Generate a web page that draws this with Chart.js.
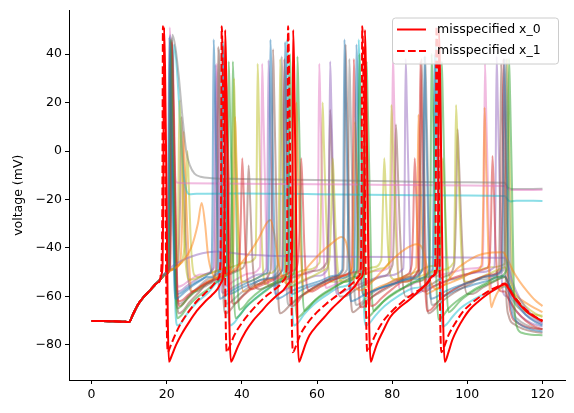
<!DOCTYPE html>
<html>
<head>
<meta charset="utf-8">
<script src="https://cdn.jsdelivr.net/npm/chart.js@4.4.1/dist/chart.umd.min.js"></script>
<style>
  html, body { margin: 0; padding: 0; background: #fff; }
  #wrap { width: 574px; height: 413px; }
</style>
</head>
<body>
<div id="wrap"><canvas id="chart" width="574" height="413"></canvas></div>
<script>
// tick labels
const xTicks = [0, 20, 40, 60, 80, 100, 120]
const yTicks = [-80, -60, -40, -20, 0, 20, 40]

// shared start of every trace: rest, then the current step at t=10 ms
const ramp = [[0,-70.2],[3,-70.1],[6,-70.3],[9,-70.5],[10,-70.6],[11,-67.5],[12.5,-63],[14,-60],[15.7,-57.3],[17,-55],[18.3,-53]]

// misspecified x_0 (solid red)
const x0 = ramp.concat([[18.6,-51],[18.9,-47],[19.1,-20],[19.3,51],[19.55,35],[19.9,-10],[20.3,-70],[20.6,-87],[21.2,-85],[22.5,-80],[24,-75.5],[26,-70.5],[28,-66],[30,-62.5],[32,-59.5],[33.5,-57],[34.6,-54],[35.1,-50],[35.35,-25],[35.55,50],[35.8,35],[36.2,-10],[36.7,-72],[37.1,-87],[37.8,-85],[39,-80.5],[41,-74.5],[43,-70],[45,-66.5],[47,-63],[49,-60],[51,-57.5],[52.5,-54.5],[53.2,-50],[53.45,-25],[53.65,50],[53.9,35],[54.3,-10],[54.8,-72],[55.2,-87],[56,-84],[57,-79.5],[58,-76],[60,-72],[62,-68.5],[64,-65],[66,-62],[68,-59],[70,-56],[71.6,-52.5],[72.3,-50],[72.55,-25],[72.75,50],[73,35],[73.4,-10],[73.9,-72],[74.3,-87],[75,-84],[76,-79.5],[77.5,-74.5],[79.5,-68.5],[82,-64.5],[84.5,-61.5],[87,-58],[89,-55],[90.9,-51.5],[91.9,-49],[92.25,-25],[92.45,50],[92.7,35],[93.1,-10],[93.6,-72],[94,-87],[95,-83],[96,-78],[97.5,-73],[99,-69],[100.6,-65.5],[103,-62],[105,-59.5],[107.5,-57],[110,-55],[110.5,-55.5],[112,-59.5],[114,-63.5],[116,-66.5],[118,-68.5],[120,-70.3]])

// misspecified x_1 (dashed red)
const x1 = ramp.concat([[18.4,-51],[18.65,-45],[18.85,-20],[19.0,51.5],[19.25,35],[19.6,-10],[20.0,-70],[20.3,-83],[21,-80.5],[22.5,-75],[24,-70.5],[26,-66],[28,-62],[30,-59],[32,-56],[33.6,-53],[34.2,-49],[34.45,-25],[34.65,51.5],[34.9,35],[35.3,-10],[35.7,-70],[36,-83],[36.8,-80.5],[38,-76],[40,-71],[42,-67],[44,-63.5],[46,-60.5],[48,-58],[50,-55.5],[51.3,-53],[51.9,-49],[52.1,-25],[52.3,51.5],[52.55,35],[52.9,-10],[53.3,-70],[53.6,-83],[54.4,-80.5],[55.5,-76],[57.5,-71],[60,-66.5],[62.5,-63],[65,-60],[67.5,-57],[69.5,-54.5],[71,-52],[71.6,-49],[71.85,-25],[72.05,51.5],[72.3,35],[72.7,-10],[73.1,-70],[73.4,-83],[74.2,-80.5],[75.5,-76],[77.5,-70.5],[80,-66],[82.5,-62.5],[85,-59.5],[87.5,-57],[89.5,-54.5],[90.9,-51.5],[91.4,-49],[91.6,-25],[91.8,51.5],[92.05,35],[92.4,-10],[92.8,-70],[93.1,-83],[93.9,-80.5],[95,-76],[97,-70.5],[99,-66],[101,-63],[103.5,-60],[106,-57.5],[108,-56],[110,-54.7],[110.5,-55.2],[112,-59],[114,-63],[116,-66],[118,-68.3],[120,-70]])

// posterior samples (faint traces)
const blue1 = ramp.concat([[19.5,-51],[20.1,-49],[20.4,-20],[20.7,47],[21,29],[21.5,-15],[22,-53],[22.5,-61],[23.5,-60],[25,-58],[27,-55.5],[29.5,-53],[31.5,-50.5],[31.9,-49],[32.2,-20],[32.5,46],[32.8,28],[33.3,-15],[33.8,-53],[34.3,-61],[35.3,-60],[37.5,-57.5],[40.5,-55],[43.5,-53],[46.5,-50.5],[47,-49],[47.3,-20],[47.6,46],[47.9,28],[48.4,-15],[48.9,-53],[49.4,-61],[50.4,-60.5],[53,-58],[57,-55.5],[61,-53.5],[64.5,-51.5],[66.7,-49],[67,-20],[67.3,46],[67.6,28],[68.1,-15],[68.6,-53],[69.1,-62],[70.1,-61.5],[73,-59],[77,-56.5],[81,-54.5],[85,-52.5],[88,-49],[88.3,-20],[88.6,39],[88.9,22],[89.4,-15],[89.9,-53],[90.4,-61],[91.4,-60.5],[94,-58],[98,-55.5],[102,-53.5],[106,-51.5],[109.2,-49],[109.5,-20],[109.8,38],[110.1,22],[110.6,-15],[111.1,-55],[111.8,-66],[113,-70],[115,-72.5],[117.5,-73.8],[120,-74.5]])
const orange1 = ramp.concat([[19.5,-51],[21,-49.5],[24,-46],[26.5,-40],[28.3,-30],[29.3,-21.5],[30.2,-30],[31,-43],[32,-50],[33.5,-52.5],[36,-51],[39,-47.5],[42,-42],[44.5,-36],[46.5,-30],[47.6,-28.5],[48.6,-34],[49.6,-45],[51,-53],[52.5,-55],[55,-52.5],[58,-47],[61,-42],[64,-38],[66.5,-35.5],[67.8,-38],[68.8,-47],[70,-55],[71.5,-57.5],[74,-55],[77,-50],[80,-45],[83,-41],[86.5,-38.5],[88,-40],[89,-46],[90.2,-54],[91.8,-57],[94,-55],[97,-49],[100,-45.5],[103,-43],[106,-42],[109.5,-41.8],[110.5,-44],[112,-49],[114,-54],[116,-58],[118,-61.5],[120,-64]])
const green1 = ramp.concat([[19.5,-51],[20.4,-49],[20.7,-20],[21,46],[21.3,28],[21.8,-15],[22.3,-55],[22.8,-69],[23.8,-68],[25.5,-64.5],[28,-60.5],[31,-57],[34,-53.5],[35.9,-49],[36.2,-20],[36.5,37],[36.8,20],[37.3,-15],[37.8,-55],[38.3,-69],[39.3,-68],[41,-64.5],[44,-60.5],[47,-57],[50,-54],[52.2,-49],[52.5,-20],[52.8,40],[53.1,22],[53.6,-15],[54.1,-55],[54.6,-69],[55.6,-68],[57.5,-64.5],[60.5,-60.5],[64,-57],[67.5,-54],[70.7,-49],[71,-20],[71.3,40],[71.6,22],[72.1,-15],[72.6,-55],[73.1,-69],[74.1,-68],[76,-64.5],[79,-60.5],[82.5,-57],[86,-54],[89.9,-49],[90.2,-20],[90.5,40],[90.8,22],[91.3,-15],[91.8,-55],[92.3,-69.5],[93.3,-68.5],[95,-65],[98,-61],[101.5,-57.5],[105,-54.5],[108,-52],[110.5,-49],[110.8,-20],[111.1,38],[111.4,22],[111.9,-15],[112.4,-58],[113.1,-72],[114.5,-75],[117,-75.8],[120,-76]])
const red1 = ramp.concat([[19.5,-51],[20.8,-49],[21.1,-20],[21.4,45],[21.7,27],[22.2,-15],[22.7,-55],[23.2,-62],[24.2,-61.5],[26,-59],[29,-56],[32,-53.5],[35,-51.5],[38,-49.5],[39.2,-47],[39.7,-30],[40.1,-3],[40.5,-18],[41,-42],[41.8,-56],[42.8,-57],[45,-55.5],[48,-53.5],[51,-51.5],[54,-49],[54.9,-46],[55.4,-30],[55.8,-3],[56.2,-18],[56.7,-42],[57.5,-57],[58.5,-58],[61,-56],[64,-53.5],[67,-51.5],[70,-50],[72,-48],[72.3,-20],[72.6,42],[72.9,25],[73.4,-15],[73.9,-55],[74.4,-64],[75.4,-63.5],[77,-61],[80,-57],[83,-54],[86.9,-49],[87.2,-20],[87.5,37],[87.8,20],[88.3,-15],[88.8,-55],[89.3,-66],[90.3,-65.5],[92,-62.5],[95,-58.5],[99,-55],[103,-52.5],[106.5,-51],[109,-49],[109.3,-20],[109.6,38],[109.9,20],[110.4,-15],[110.9,-55],[111.6,-67],[113,-70.5],[115.5,-72.5],[118,-73.3],[120,-73.6]])
const purple1 = ramp.concat([[19.5,-50.5],[22,-47],[25,-44.5],[28,-42.8],[31,-41.8],[34,-41.5],[37,-42],[42,-42.8],[50,-43.3],[65,-43.6],[85,-43.8],[100,-43.9],[110,-44],[110.8,-47],[112,-54],[114,-61],[116.5,-66.5],[120,-71]])
const brown1 = ramp.concat([[19.5,-51],[20.7,-49],[21,-20],[21.3,46],[21.6,28],[22.1,-15],[22.6,-57],[23.3,-67],[24.3,-66],[26,-62.5],[28.5,-58.5],[31,-54.5],[33.1,-49],[33.4,-20],[33.7,43],[34,25],[34.5,-15],[35,-57],[35.7,-67],[36.7,-66],[38.5,-62.5],[41,-58.5],[44,-55],[47.7,-49],[48,-20],[48.3,42],[48.6,24],[49.1,-15],[49.6,-57],[50.3,-67],[51.3,-66],[53.5,-62.5],[57,-58.5],[61,-55],[64.5,-52],[67,-49],[67.3,-20],[67.6,44],[67.9,26],[68.4,-15],[68.9,-57],[69.6,-66.5],[70.6,-65.5],[73,-62],[76.5,-58.5],[80.5,-55],[84.5,-52],[87.2,-49],[87.5,-20],[87.8,38],[88.1,20],[88.6,-15],[89.1,-57],[89.8,-67],[90.8,-66],[93,-62.5],[96.5,-58.5],[100.5,-55],[104.5,-52],[108.4,-49],[108.7,-20],[109,36],[109.3,18],[109.8,-15],[110.3,-57],[111,-68],[112.5,-71.5],[115,-73.5],[117.5,-74.5],[120,-75]])
const pink1 = ramp.concat([[19.5,-50.5],[20.2,-48],[20.5,-15],[20.8,51],[21.1,42],[21.6,15],[22.1,-8],[22.7,-13],[25,-13.3],[40,-13.5],[60,-13.7],[80,-14],[100,-14.2],[110,-14.4],[110.7,-15.5],[112,-16.1],[120,-16]])
const gray1 = ramp.concat([[19.5,-50.5],[20.6,-48],[21,-15],[21.5,48],[22.3,43],[23.2,31],[24.2,14],[25.2,0],[26.2,-6],[27.4,-9.3],[29,-10.6],[32,-11.2],[40,-11.5],[60,-12],[80,-12.5],[100,-12.9],[110,-13.1],[110.7,-15],[112,-15.7],[120,-15.6]])
const olive1 = ramp.concat([[19.5,-51],[21,-49],[22.8,-46],[23.1,-20],[23.4,21],[23.8,5],[24.4,-25],[25,-45],[25.8,-53],[27,-53],[29.5,-51.5],[32.5,-50],[35.5,-48.5],[37.3,-46],[37.6,-20],[37.9,30],[38.2,12],[38.8,-25],[39.4,-47],[40.2,-54],[41.5,-54],[44,-52.5],[47,-50.5],[49.6,-47],[49.9,-20],[50.2,38],[50.5,20],[51,-20],[51.6,-50],[52.4,-56],[53.6,-55.5],[56,-53.5],[59,-51.5],[62,-49],[63.3,-45],[63.8,-25],[64.2,-3],[64.6,-18],[65.2,-42],[66,-53],[67.3,-54],[70,-52.5],[73.5,-50.5],[77,-48.5],[79.2,-46],[79.5,-20],[79.8,19],[80.2,3],[80.8,-25],[81.4,-47],[82.2,-54],[83.5,-54],[86,-52.5],[89.5,-50.5],[93,-49],[96.4,-46],[96.7,-20],[97,19],[97.4,3],[98,-25],[98.6,-47],[99.4,-54],[100.7,-54],[103,-52.5],[106,-50.5],[109,-48.5],[110,-48],[111,-52],[113,-59],[115.5,-64],[118,-67],[120,-68.5]])
const cyan1 = ramp.concat([[19.5,-50.5],[20.6,-48],[21.3,-10],[21.9,44],[22.5,38],[23.2,22],[23.9,2],[24.6,-11],[25.3,-16.5],[26,-17.8],[28,-17.6],[40,-17.5],[60,-17.8],[80,-18.1],[100,-18.4],[110,-18.6],[110.8,-20.2],[111.6,-20.8],[113,-20.5],[120,-20.6]])
const blue2 = ramp.concat([[19.5,-51],[20.3,-49],[20.6,-20],[20.9,48],[21.2,30],[21.7,-15],[22.2,-52],[22.8,-59],[23.8,-58.5],[25.5,-56.5],[28,-54],[31,-52],[34.3,-49],[34.6,-20],[34.9,44],[35.2,26],[35.7,-15],[36.2,-52],[36.8,-59],[37.8,-58.5],[40,-56.5],[43,-54.5],[47,-52.5],[50.9,-49],[51.2,-20],[51.5,45],[51.8,27],[52.3,-15],[52.8,-52],[53.4,-59],[54.4,-58.5],[57,-56.5],[61,-54.5],[65.5,-52.5],[69.9,-49],[70.2,-20],[70.5,44],[70.8,26],[71.3,-15],[71.8,-52],[72.4,-59.5],[73.4,-59],[76,-57],[80,-55],[85,-53],[90.7,-49],[91,-20],[91.3,40],[91.6,22],[92.1,-15],[92.6,-52],[93.2,-60],[94.2,-59.5],[97,-57.5],[101,-55.5],[105.5,-53.5],[110,-51.5],[111,-55],[113,-62],[115.5,-67.5],[118,-70.5],[120,-72]])
const orange2 = ramp.concat([[19.5,-51],[21,-49],[23.5,-46.5],[24.1,-30],[24.5,8],[24.8,-5],[25.3,-25],[25.9,-45],[26.7,-58],[27.7,-57.5],[29.5,-55.5],[32,-53],[35,-50.5],[37.6,-47.5],[37.9,-25],[38.2,14],[38.5,0],[39,-25],[39.6,-48],[40.4,-58],[41.5,-57.5],[44,-55.5],[47,-53.5],[50,-51.5],[53.8,-48],[54.1,-25],[54.5,20],[54.8,5],[55.3,-25],[55.9,-48],[56.7,-59],[58,-58],[61,-55.5],[64,-53.5],[67,-51.5],[69.5,-48],[69.8,-25],[70.1,12],[70.4,0],[70.9,-25],[71.5,-48],[72.3,-59],[73.5,-58.5],[76,-56.5],[79,-54.5],[82,-52.5],[86.4,-48],[86.7,-25],[87,15],[87.3,0],[87.8,-25],[88.4,-48],[89.2,-59],[90.5,-58],[93,-56],[96,-54],[99,-52],[102,-49.5],[103.8,-47],[104.2,-25],[104.6,18],[104.9,0],[105.4,-30],[105.9,-55],[106.4,-64.5],[107,-62],[108,-58.5],[109,-56.5],[110,-55.5],[110.5,-56],[112,-58.5],[114,-61],[117,-64],[120,-66.5]])
const green2 = ramp.concat([[19.5,-51],[20.5,-49],[20.8,-20],[21.1,45],[21.4,27],[21.9,-15],[22.4,-55],[22.9,-65],[23.9,-64],[25.5,-61],[28,-57.5],[31,-54.5],[34,-52],[37,-49],[37.3,-20],[37.6,37],[37.9,20],[38.4,-15],[38.9,-55],[39.4,-65.5],[40.4,-64.5],[42,-61.5],[45,-57.5],[48.5,-54.5],[52,-52],[54.2,-49],[54.5,-20],[54.8,39],[55.1,21],[55.6,-15],[56.1,-55],[56.6,-66],[57.6,-65],[59.5,-61.5],[62.5,-58],[66,-55],[70,-52],[72.6,-49],[72.9,-20],[73.2,37],[73.5,20],[74,-15],[74.5,-55],[75,-66],[76,-65],[78,-61.5],[81,-58],[85,-55],[89,-52],[92.6,-49],[92.9,-20],[93.2,37],[93.5,20],[94,-15],[94.5,-55],[95,-66.5],[96,-65.5],[98,-62],[101,-58.5],[104.5,-55.5],[108,-53],[110,-52],[111,-55],[113,-61],[115.5,-65.5],[118,-68.5],[120,-70]])
const red2 = ramp.concat([[19.5,-51],[20.9,-49],[21.2,-20],[21.5,44],[21.8,26],[22.3,-15],[22.8,-55],[23.4,-64],[24.4,-63],[26,-60],[28.5,-56.5],[31.5,-53.5],[35.2,-49],[35.5,-20],[35.8,30],[36.1,14],[36.6,-15],[37.1,-55],[37.7,-63],[38.7,-62.5],[40.5,-59.5],[43.5,-56],[47,-53],[50.7,-49],[51,-20],[51.3,38],[51.6,20],[52.1,-15],[52.6,-55],[53.2,-64],[54.2,-63.5],[56,-60],[59,-56.5],[62.5,-53.5],[66,-51.5],[69.2,-49],[69.5,-20],[69.8,38],[70.1,20],[70.6,-15],[71.1,-55],[71.7,-64.5],[72.7,-64],[74.5,-60.5],[77.5,-57],[81,-54],[84,-51],[85.2,-47],[85.6,-30],[86,-3],[86.4,-18],[86.9,-42],[87.7,-57],[88.7,-58],[91,-56],[94.5,-53.5],[98,-51.5],[102,-50],[105,-48.5],[105.9,-46],[106.3,-30],[106.7,-2],[107.1,-18],[107.6,-42],[108.4,-57],[109.3,-58],[110,-58],[111,-61],[113,-66],[115.5,-70],[118,-72.5],[120,-73.5]])
const purple2 = ramp.concat([[19.5,-51],[20.4,-49],[20.7,-20],[21,45],[21.3,27],[21.8,-15],[22.3,-50],[22.9,-58],[23.9,-57.5],[25.5,-55.5],[28,-53],[31,-50.5],[32.4,-48.5],[32.7,-20],[33,35.5],[33.3,18],[33.8,-15],[34.3,-50],[34.9,-58.5],[35.9,-58],[38,-56],[41,-53.5],[44.5,-51],[46.5,-48.5],[46.8,-20],[47.1,37.5],[47.4,20],[47.9,-15],[48.4,-50],[49,-59],[50,-58.5],[52.5,-56.5],[56,-54],[60,-51.5],[62.9,-48.5],[63.2,-20],[63.5,37],[63.8,20],[64.3,-15],[64.8,-50],[65.4,-59],[66.4,-58.5],[69,-56.5],[73,-54],[78,-51.5],[83,-48.5],[83.3,-20],[83.6,38],[83.9,20],[84.4,-15],[84.9,-50],[85.5,-59.5],[86.5,-59],[89,-57],[93,-54.5],[98,-52],[103,-50],[107.2,-48],[107.5,-20],[107.8,39],[108.1,21],[108.6,-15],[109.1,-50],[109.7,-59],[110.5,-60],[112,-64],[114.5,-68.5],[117,-71],[120,-72.5]])
const brown2 = ramp.concat([[19.5,-51],[21,-49],[23,-46],[23.5,-25],[23.9,14],[24.3,0],[24.9,-30],[25.6,-50],[26.5,-58],[27.7,-58],[30,-56],[33,-53.5],[36.5,-51],[40,-48.5],[41,-45],[41.4,-28],[41.8,-6],[42.2,-20],[42.8,-44],[43.6,-56],[44.8,-57],[47.5,-55.5],[51,-53.5],[55,-51.5],[59,-49.5],[62.6,-46],[63.1,-25],[63.5,17],[63.9,2],[64.5,-30],[65.2,-52],[66.1,-60],[67.3,-60],[70,-57.5],[73.5,-54.5],[77,-52],[80.1,-47],[80.6,-25],[81,11],[81.4,-3],[82,-30],[82.7,-52],[83.6,-60],[84.8,-60],[87.5,-57.5],[91,-54.5],[94.5,-51.5],[96.5,-47],[97,-25],[97.4,9],[97.8,-5],[98.4,-30],[99.1,-52],[100,-59],[101.2,-59],[104,-56.5],[107,-54],[110,-52],[111,-55],[113,-61],[115.5,-66],[118,-69],[120,-70.5]])
const pink2 = ramp.concat([[19.5,-51],[20.6,-49],[20.9,-20],[21.2,44],[21.5,26],[22,-15],[22.5,-48],[23.1,-56],[24.1,-55.5],[26,-53.5],[29,-51],[32.7,-48],[33,-20],[33.3,36],[33.6,18],[34.1,-15],[34.6,-48],[35.2,-56],[36.2,-55.5],[38.5,-53],[42,-50.5],[44.8,-48],[45.1,-20],[45.4,36],[45.7,18],[46.2,-15],[46.7,-48],[47.3,-56],[48.3,-55.5],[51,-53.5],[55,-51],[60,-48],[60.3,-20],[60.6,36],[60.9,18],[61.4,-15],[61.9,-48],[62.5,-56.5],[63.5,-56],[66.5,-54],[71,-51.5],[75.5,-49.5],[79.6,-47.5],[79.9,-20],[80.2,40],[80.5,22],[81,-15],[81.5,-48],[82.1,-57],[83.1,-56.5],[86,-54.5],[91,-52],[96,-50],[101,-48.5],[104.1,-47.5],[104.4,-20],[104.7,36],[105,18],[105.5,-15],[106,-48],[106.6,-57],[107.6,-56.5],[110,-55],[111,-58],[113,-63],[115.5,-67.5],[118,-70],[120,-71.5]])
const gray2 = ramp.concat([[19.5,-51],[20.7,-49],[21,-20],[21.3,47],[21.6,29],[22.1,-15],[22.6,-55],[23.2,-63],[24.2,-62.5],[26,-59.5],[28.5,-56],[31.5,-52.5],[33.4,-49],[33.7,-20],[34,42],[34.3,24],[34.8,-15],[35.3,-55],[35.9,-63],[36.9,-62.5],[39,-59.5],[42,-56],[45.5,-53],[50,-49],[50.3,-20],[50.6,39],[50.9,21],[51.4,-15],[51.9,-55],[52.5,-63.5],[53.5,-63],[56,-59.5],[59.5,-56],[63.5,-53],[68,-49],[68.3,-20],[68.6,38],[68.9,20],[69.4,-15],[69.9,-55],[70.5,-63.5],[71.5,-63],[74,-59.5],[77.5,-56],[82,-53],[88.2,-49],[88.5,-20],[88.8,39],[89.1,21],[89.6,-15],[90.1,-55],[90.7,-63.5],[91.7,-63],[94,-59.5],[98,-56],[103,-53],[109.7,-49],[110,-20],[110.3,38],[110.6,20],[111.1,-15],[111.6,-55],[112.3,-66],[113.5,-69.5],[116,-72],[118,-73],[120,-73.5]])
const olive2 = ramp.concat([[19.5,-51],[21,-49],[23.5,-46.5],[24.7,-40],[25.1,-20],[25.5,0],[25.9,-15],[26.5,-40],[27.3,-51],[28.5,-52],[31,-50.5],[34.5,-49],[38,-47.5],[41,-46],[43.6,-44],[43.9,-20],[44.2,36],[44.5,18],[45,-20],[45.6,-48],[46.4,-55],[47.6,-55],[50,-53],[53.5,-51],[57,-49],[60.7,-46],[61.1,-20],[61.5,20],[61.8,5],[62.4,-25],[63,-47],[63.8,-54],[65,-54],[68,-52],[71.5,-50],[75,-48],[77.1,-45],[77.5,-25],[77.9,-3],[78.3,-17],[78.9,-40],[79.7,-52],[80.8,-53],[83.5,-51.5],[87,-49.5],[90.5,-47.5],[92.7,-45],[93.1,-25],[93.5,-3],[93.9,-17],[94.5,-40],[95.3,-52],[96.4,-53],[99,-51.5],[102.5,-49.5],[106,-48],[110,-46.5],[110.3,-20],[110.6,38],[110.9,20],[111.4,-15],[111.9,-50],[112.7,-62],[114,-65],[116.5,-67],[120,-68]])
const cyan2 = ramp.concat([[19.5,-51],[20.3,-49],[20.6,-20],[20.9,45],[21.2,27],[21.7,-15],[22.2,-60],[22.8,-72],[23.8,-71],[25.5,-67],[28,-62.5],[31,-58.5],[33.5,-54],[34.4,-49],[34.7,-20],[35,45],[35.3,27],[35.8,-15],[36.3,-60],[36.9,-72],[37.9,-71],[39.5,-67.5],[42,-63],[45,-59],[48.5,-55.5],[51.4,-49],[51.7,-20],[52,46],[52.3,28],[52.8,-15],[53.3,-60],[53.9,-72],[54.9,-71],[56.5,-67.5],[59,-63.5],[62.5,-59.5],[66.5,-56],[70.5,-49],[70.8,-20],[71.1,46],[71.4,28],[71.9,-15],[72.4,-60],[73,-72],[74,-71],[75.5,-68],[78,-64],[81.5,-60],[86,-56.5],[91,-49],[91.3,-20],[91.6,45],[91.9,27],[92.4,-15],[92.9,-60],[93.5,-72.5],[94.5,-71.5],[96,-68.5],[98.5,-64.5],[102,-61],[106,-58],[110,-56],[111,-58.5],[113,-63.5],[115.5,-67.5],[118,-70],[120,-71.5]])

const samples = [blue1, orange1, green1, red1, purple1, brown1, pink1, gray1, olive1, cyan1,
                 blue2, orange2, green2, red2, purple2, brown2, pink2, gray2, olive2, cyan2]

const TAB10 = ["31,119,180", "255,127,14", "44,160,44", "214,39,40", "148,103,189",
               "140,86,75", "227,119,194", "127,127,127", "188,189,34", "23,190,207"]
const FONT = { family: "DejaVu Sans", size: 12.5 }

const toXY = (arr) => arr.map(([x, y]) => ({ x, y }))
const minus = (v) => String(v).replace("-", "\u2212")

const datasets = [
  { label: "misspecified x_0", data: toXY(x0), borderColor: "#ff0000", borderWidth: 2 },
  { label: "misspecified x_1", data: toXY(x1), borderColor: "#ff0000", borderWidth: 2, borderDash: [7.7, 3.3] },
  ...samples.map((s, i) => ({
    data: toXY(s),
    borderColor: `rgba(${TAB10[i % 10]},0.5)`,
    borderWidth: 2,
  })),
]

// matplotlib-style legend box in the upper right of the axes
const legendBox = {
  id: "legendBox",
  afterDraw(chart) {
    const { ctx, chartArea } = chart
    const items = chart.data.datasets.filter((d) => d.label)
    const w = 166, h = 46
    const x = chartArea.right - 7 - w
    const y = chartArea.top + 7
    ctx.save()
    ctx.fillStyle = "rgba(255,255,255,0.8)"
    ctx.strokeStyle = "#cccccc"
    ctx.lineWidth = 1
    ctx.beginPath()
    ctx.roundRect(x + 0.5, y + 0.5, w, h, 3)
    ctx.fill()
    ctx.stroke()
    ctx.font = `${FONT.size}px ${FONT.family}`
    ctx.textBaseline = "middle"
    items.forEach((d, i) => {
      const cy = y + 12 + i * 21.5
      ctx.strokeStyle = d.borderColor
      ctx.lineWidth = d.borderWidth
      ctx.setLineDash(d.borderDash || [])
      ctx.beginPath()
      ctx.moveTo(x + 5, cy)
      ctx.lineTo(x + 34, cy)
      ctx.stroke()
      ctx.setLineDash([])
      ctx.fillStyle = "#000"
      ctx.fillText(d.label, x + 45, cy)
    })
    ctx.restore()
  },
}

new Chart(document.getElementById("chart"), {
  type: "line",
  data: { datasets },
  plugins: [legendBox],
  options: {
    responsive: false,
    animation: false,
    devicePixelRatio: 1,
    layout: { padding: { top: 10, right: 9, left: 0, bottom: 0 } },
    elements: {
      point: { radius: 0 },
      line: { cubicInterpolationMode: "monotone", fill: false, borderCapStyle: "butt", borderJoinStyle: "round" },
    },
    scales: {
      x: {
        type: "linear",
        min: -6,
        max: 126,
        afterBuildTicks: (s) => { s.ticks = xTicks.map((v) => ({ value: v })) },
        afterFit: (s) => { s.height = 33 },
        ticks: { color: "#000", font: FONT, padding: 3, maxRotation: 0, autoSkip: false, callback: minus },
        grid: { display: true, drawOnChartArea: false, drawTicks: true, tickLength: 4, color: "#000" },
        border: { display: true, color: "#000", width: 1 },
      },
      y: {
        type: "linear",
        min: -94.5,
        max: 58,
        afterBuildTicks: (s) => { s.ticks = yTicks.map((v) => ({ value: v })) },
        afterFit: (s) => { s.width = 69 },
        ticks: { color: "#000", font: FONT, padding: 3, autoSkip: false, callback: minus },
        grid: { display: true, drawOnChartArea: false, drawTicks: true, tickLength: 4, color: "#000" },
        border: { display: true, color: "#000", width: 1 },
        title: { display: true, text: "voltage (mV)", color: "#000", font: FONT, padding: { top: 11, bottom: 0 } },
      },
    },
    plugins: {
      legend: { display: false },
      tooltip: { enabled: false },
    },
  },
})
</script>
</body>
</html>
